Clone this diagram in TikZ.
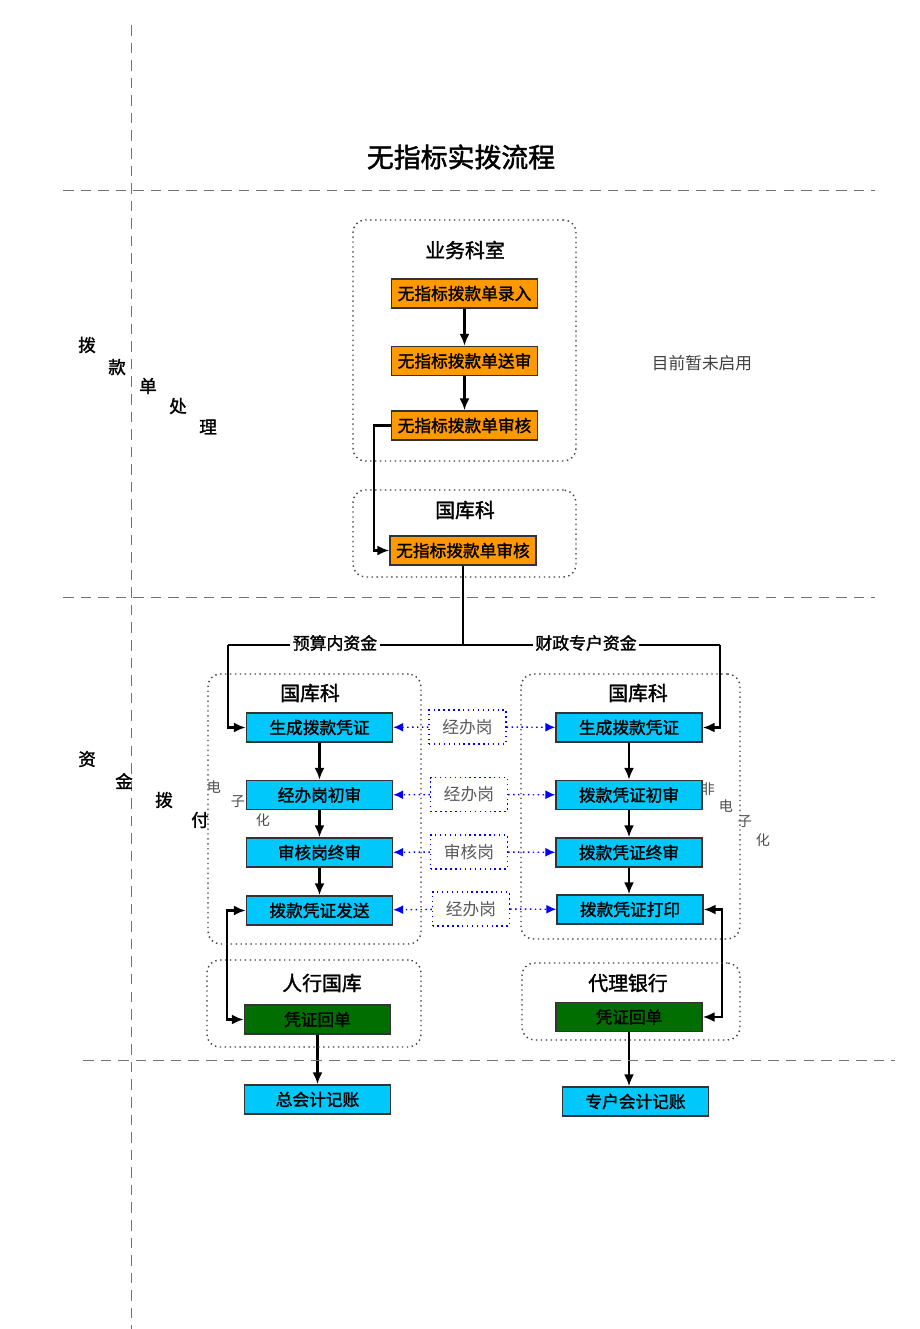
\documentclass[tikz,border=0pt]{standalone}
\usepackage{fontspec}
\setmainfont{Noto Sans CJK SC}
\newfontfamily\heavy{Noto Sans CJK SC}[FakeBold=1.6]
\usepackage{tikz}
\usetikzlibrary{arrows.meta}
\pgfdeclarelayer{bg}
\pgfsetlayers{bg,main}
\definecolor{boxorange}{RGB}{255,153,0}
\definecolor{boxcyan}{RGB}{0,200,250}
\definecolor{boxgreen}{RGB}{0,110,0}

\begin{document}
\begin{tikzpicture}[
        box/.style={draw=black!80, line width=0.8pt, minimum width=2.92cm, minimum height=0.58cm, inner sep=0pt, font=\heavy\fontsize{9.5}{11}\selectfont},
        ob/.style={box, fill=boxorange},
        bb/.style={box, fill=boxcyan},
        gb/.style={box, fill=boxgreen},
        grp/.style={draw=black!75, dotted, thick, rounded corners=0.25cm},
        mb/.style={draw=blue, dotted, thick, minimum width=1.54cm, minimum height=0.68cm, inner sep=0pt, text=black!65, font=\fontsize{9.5}{11}\selectfont},
        ttl/.style={font=\heavy\fontsize{11.3}{13}\selectfont},
        side/.style={font=\heavy\fontsize{10}{12}\selectfont},
        note/.style={text=black!70, font=\fontsize{8}{9}\selectfont},
        fund/.style={fill=white, inner sep=1.5pt, font=\heavy\fontsize{9.6}{11}\selectfont},
        sep/.style={draw=black!55, dashed, dash pattern=on 6pt off 4pt},
        arr/.style={-{Latex[length=2.4mm,width=2mm]}, line width=1.3pt},
        darr/.style={{Latex[length=2.4mm,width=2mm]}-{Latex[length=2.4mm,width=2mm]}, line width=1.3pt},
        barr/.style={-{Latex[length=2mm,width=1.8mm]}, blue, dotted, thick}]
        \useasboundingbox (0cm, 0cm) rectangle (18.400000cm, -26.580000cm);
        % separators
        \draw [sep] (2.620000cm, -0.500000cm) -- (2.620000cm, -26.580000cm);
        \draw [sep] (1.260000cm, -3.800000cm) -- (17.500000cm, -3.800000cm);
        \draw [sep] (1.260000cm, -11.940000cm) -- (17.500000cm, -11.940000cm);
        \draw [sep] (1.660000cm, -21.200000cm) -- (17.900000cm, -21.200000cm);
        \node (t0) at (9.220000cm, -3.140000cm) {\heavy\fontsize{15.3}{18}\selectfont 无指标实拨流程};
        \node (t1) [text=black!75, font=\fontsize{9.5}{11}\selectfont] at (14.040000cm, -7.260000cm) {目前暂未启用};
        % side labels
        \node (s0) [side] at (1.740000cm, -6.900000cm) {拨};
        \node (s1) [side] at (2.340000cm, -7.340000cm) {款};
        \node (s2) [side] at (2.960000cm, -7.720000cm) {单};
        \node (s3) [side] at (3.560000cm, -8.120000cm) {处};
        \node (s4) [side] at (4.160000cm, -8.540000cm) {理};
        \node (s5) [side] at (1.740000cm, -15.180000cm) {资};
        \node (s6) [side] at (2.480000cm, -15.620000cm) {金};
        \node (s7) [side] at (3.280000cm, -16.000000cm) {拨};
        \node (s8) [side] at (4.000000cm, -16.400000cm) {付};
        % groups
        \node (g1) [grp, minimum width=4.460000cm, minimum height=4.820000cm] at (9.290000cm, -6.810000cm) {};
        \node (g2) [grp, minimum width=4.460000cm, minimum height=1.740000cm] at (9.290000cm, -10.670000cm) {};
        \node (g3) [grp, minimum width=4.260000cm, minimum height=5.400000cm] at (6.290000cm, -16.180000cm) {};
        \node (g4) [grp, minimum width=4.380000cm, minimum height=5.300000cm] at (12.610000cm, -16.130000cm) {};
        \node (g5) [grp, minimum width=4.280000cm, minimum height=1.740000cm] at (6.280000cm, -20.070000cm) {};
        \node (g6) [grp, minimum width=4.360000cm, minimum height=1.540000cm] at (12.620000cm, -20.030000cm) {};
        \node (h1) [ttl] at (9.300000cm, -5.000000cm) {业务科室};
        \node (h2) [ttl] at (9.300000cm, -10.200000cm) {国库科};
        \node (h3) [ttl] at (6.200000cm, -13.860000cm) {国库科};
        \node (h4) [ttl] at (12.760000cm, -13.860000cm) {国库科};
        \node (h5) [ttl] at (6.440000cm, -19.660000cm) {人行国库};
        \node (h6) [ttl] at (12.560000cm, -19.660000cm) {代理银行};
        % steps
        \node (o1) [ob] at (9.290000cm, -5.870000cm) {无指标拨款单录入};
        \node (o2) [ob] at (9.290000cm, -7.220000cm) {无指标拨款单送审};
        \node (o3) [ob] at (9.290000cm, -8.510000cm) {无指标拨款单审核};
        \node (o4) [ob] at (9.260000cm, -11.010000cm) {无指标拨款单审核};
        \node (f1) [fund] at (6.700000cm, -12.860000cm) {预算内资金};
        \node (f2) [fund] at (11.720000cm, -12.860000cm) {财政专户资金};
        \node (l1) [bb] at (6.390000cm, -14.550000cm) {生成拨款凭证};
        \node (l2) [bb] at (6.390000cm, -15.900000cm) {经办岗初审};
        \node (l3) [bb] at (6.390000cm, -17.050000cm) {审核岗终审};
        \node (l4) [bb] at (6.390000cm, -18.210000cm) {拨款凭证发送};
        \node (r1) [bb] at (12.580000cm, -14.550000cm) {生成拨款凭证};
        \node (r2) [bb] at (12.580000cm, -15.900000cm) {拨款凭证初审};
        \node (r3) [bb] at (12.580000cm, -17.050000cm) {拨款凭证终审};
        \node (r4) [bb] at (12.600000cm, -18.190000cm) {拨款凭证打印};
        \node (m1) [mb] at (9.350000cm, -14.540000cm) {经办岗};
        \node (m2) [mb] at (9.380000cm, -15.890000cm) {经办岗};
        \node (m3) [mb] at (9.380000cm, -17.040000cm) {审核岗};
        \node (m4) [mb] at (9.420000cm, -18.180000cm) {经办岗};
        \node (gl) [gb] at (6.350000cm, -20.390000cm) {凭证回单};
        \node (gr) [gb] at (12.580000cm, -20.340000cm) {凭证回单};
        \node (bl) [bb] at (6.350000cm, -21.990000cm) {总会计记账};
        \node (br) [bb] at (12.710000cm, -22.030000cm) {专户会计记账};
        % notes
        \node (e0) [note] at (4.280000cm, -15.740000cm) {电};
        \node (e1) [note] at (4.760000cm, -16.040000cm) {子};
        \node (e2) [note] at (5.260000cm, -16.400000cm) {化};
        \node (e3) [note] at (14.160000cm, -15.780000cm) {非};
        \node (e4) [note] at (14.520000cm, -16.120000cm) {电};
        \node (e5) [note] at (14.900000cm, -16.440000cm) {子};
        \node (e6) [note] at (15.260000cm, -16.800000cm) {化};
        \coordinate (c1) at (4.560000cm, -12.900000cm);
        \coordinate (c2) at (14.400000cm, -12.900000cm);
        \coordinate (c3) at (4.540000cm, -19.000000cm);
        \coordinate (c4) at (14.440000cm, -19.000000cm);
        \begin{pgfonlayer}{bg}
                \draw (o1) edge [arr] (o2);
                \draw (o2) edge [arr] (o3);
                \draw [arr] (o3.west) -- ++(-0.340000cm, 0cm) |- (o4.west);
                \draw [line width=1.3pt] (o4.south) -- (o4.south |- c1);
                \draw [line width=1.3pt] (c1) -- (c2);
                \draw [arr] (c1) |- (l1.west);
                \draw [arr] (c2) |- (r1.east);
                \draw (l1) edge [arr] (l2);
                \draw (l2) edge [arr] (l3);
                \draw (l3) edge [arr] (l4);
                \draw (r1) edge [arr] (r2);
                \draw (r2) edge [arr] (r3);
                \draw [arr] (r3.south) -- (r3.south |- r4.north);
                \draw [darr] (l4.west) -| (c3) |- (gl.west);
                \draw [darr] (r4.east) -| (c4) |- (gr.east);
                \draw (gl) edge [arr] (bl);
                \draw [arr] (gr.south) -- (gr.south |- br.north);
                \draw (m1) edge [barr] (l1);
                \draw (m1) edge [barr] (r1);
                \draw (m2) edge [barr] (l2);
                \draw (m2) edge [barr] (r2);
                \draw (m3) edge [barr] (l3);
                \draw (m3) edge [barr] (r3);
                \draw (m4) edge [barr] (l4);
                \draw (m4) edge [barr] (r4);
        \end{pgfonlayer}
\end{tikzpicture}
\end{document}
